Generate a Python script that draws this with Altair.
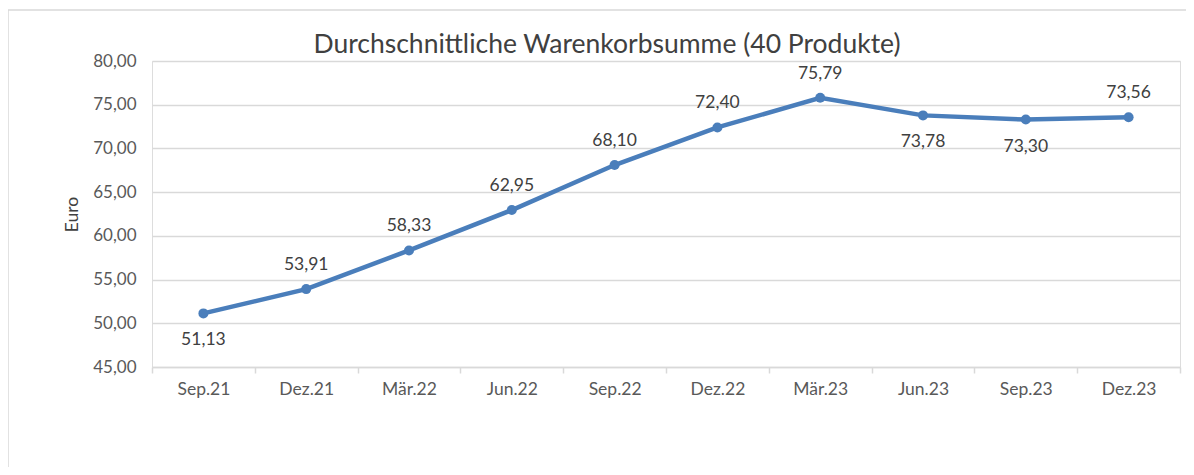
import altair as alt
import pandas as pd

categories = ["Sep.21", "Dez.21", "Mär.22", "Jun.22", "Sep.22",
              "Dez.22", "Mär.23", "Jun.23", "Sep.23", "Dez.23"]
values = [51.13, 53.91, 58.33, 62.95, 68.10, 72.40, 75.79, 73.78, 73.30, 73.56]
label_above = [False, True, True, True, True, True, True, False, False, True]
title_text = "Durchschnittliche Warenkorbsumme (40 Produkte)"

df = pd.DataFrame({
    "Quartal": categories,
    "Euro": values,
    "label": [f"{v:.2f}".replace(".", ",") for v in values],
    "above": label_above,
})

FONT = "Lato"
BLUE = "#4a7ebb"

x = alt.X("Quartal:N", sort=categories, title=None,
          scale=alt.Scale(paddingInner=0, paddingOuter=0),
          axis=alt.Axis(labelAngle=0, labelFont=FONT, labelFontSize=17.5,
                        labelColor="#595959", labelPadding=7,
                        domainColor="#d9d9d9", domainWidth=1.5,
                        tickColor="#d9d9d9", tickSize=6, tickWidth=1.5,
                        tickBand="extent", grid=False))
y = alt.Y("Euro:Q", title="Euro",
          scale=alt.Scale(domain=[45, 80], nice=False, zero=False),
          axis=alt.Axis(values=[45, 50, 55, 60, 65, 70, 75, 80],
                        labelExpr="replace(format(datum.value, '.2f'), '.', ',')",
                        labelFont=FONT, labelFontSize=17, labelColor="#595959",
                        labelPadding=16, ticks=False, domain=False,
                        gridColor="#d9d9d9", gridWidth=1.5,
                        titleFont=FONT, titleFontSize=17.5, titleFontWeight="normal",
                        titleColor="#404040", titlePadding=11))

base = alt.Chart(df)

line = base.mark_line(color=BLUE, strokeWidth=4.5).encode(x=x, y=y)
pts = base.mark_circle(color=BLUE, size=100, opacity=1).encode(x=x, y=y)

lab_up = base.transform_filter("datum.above").mark_text(
    font=FONT, fontSize=17.5, color="#404040", dy=-24
).encode(x=x, y=y, text="label:N")
lab_dn = base.transform_filter("!datum.above").mark_text(
    font=FONT, fontSize=17.5, color="#404040", dy=27
).encode(x=x, y=y, text="label:N")

border = alt.Chart(pd.DataFrame({"a": [0]})).mark_rect(
    fill=None, stroke="#d9d9d9", strokeWidth=1.5, clip=False
).encode(x=alt.value(-144), x2=alt.value(1220), y=alt.value(-51), y2=alt.value(600))

title = alt.Chart(pd.DataFrame({"t": [title_text]})).mark_text(
    font=FONT, fontSize=26.5, color="#404040", align="center", baseline="middle"
).encode(x=alt.value(455), y=alt.value(-16), text="t:N")

chart = alt.layer(border, line, pts, lab_up, lab_dn, title).properties(
    width=1028, height=306,
    autosize=alt.AutoSizeParams(type="none"),
    padding={"left": 144, "top": 53, "right": 6, "bottom": 100},
).configure_view(stroke=None).configure(background="white")

chart.save("out.html", embed_options={"renderer": "svg", "actions": False})
